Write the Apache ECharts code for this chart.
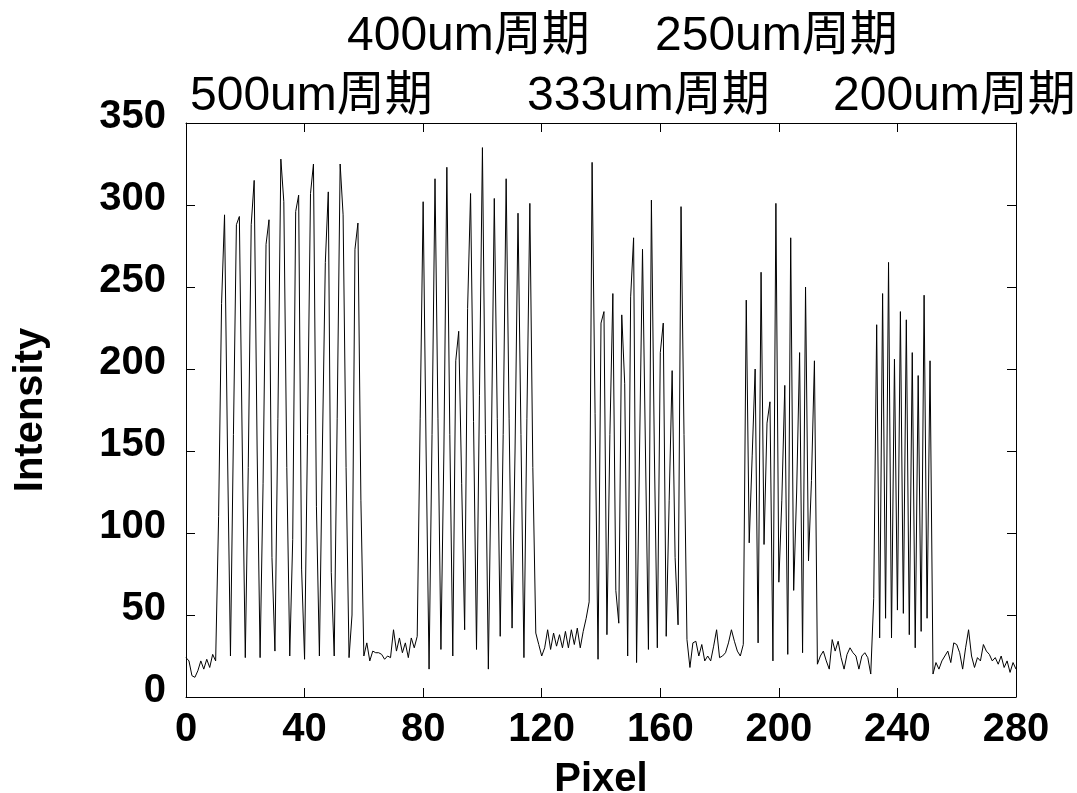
<!DOCTYPE html>
<html>
<head>
<meta charset="utf-8">
<script src="https://cdn.jsdelivr.net/npm/echarts@6/dist/echarts.min.js"></script>
<style>
  html, body { margin: 0; padding: 0; background: #ffffff; }
  #chart { width: 1077px; height: 793px; }
</style>
</head>
<body>
<div id="chart"></div>
<script>
// Line profile across the grating pattern: intensity per pixel (index = pixel 0..280)
const intensity = [
  24, 22, 13, 12, 16, 22, 17, 23, 18, 26,          // 0-9
  22, 110, 240, 294, 150, 25, 160, 288, 293, 150,  // 10-19
  24, 140, 288, 315, 150, 24, 130, 276, 291, 85,   // 20-29
  28, 170, 328, 302, 140, 25, 96, 296, 306, 78,    // 30-39
  23, 160, 307, 325, 116, 25, 150, 265, 308, 76,   // 40-49
  25, 170, 325, 294, 140, 24, 50, 273, 289, 120,   // 50-59
  25, 33, 22, 28, 27, 27, 26, 23, 25, 24,          // 60-69
  41, 28, 36, 27, 33, 24, 36, 30, 37, 170,         // 70-79
  302, 150, 17, 160, 316, 170, 29, 150, 323, 160,  // 80-89
  25, 205, 223, 130, 41, 237, 307, 168, 29, 184,   // 90-99
  335, 160, 17, 150, 304, 170, 37, 160, 316, 170,  // 100-109
  42, 150, 295, 160, 24, 170, 301, 140, 39, 32,    // 110-119
  25, 30, 41, 29, 39, 31, 38, 30, 40, 30,          // 120-129
  41, 32, 42, 30, 40, 48, 58, 326, 173, 23,        // 130-139
  228, 235, 38, 160, 246, 65, 45, 233, 191, 25,    // 140-149
  244, 280, 21, 150, 273, 150, 29, 303, 150, 30,   // 150-159
  210, 228, 37, 120, 199, 85, 44, 299, 160, 35,    // 160-169
  18, 33, 34, 25, 32, 22, 25, 22, 31, 41,          // 170-179
  24, 25, 27, 33, 41, 34, 28, 25, 32, 242,         // 180-189
  94, 147, 200, 33, 259, 93, 167, 180, 22, 301,    // 190-199
  70, 120, 190, 26, 280, 65, 125, 210, 27, 250,    // 200-209
  83, 132, 205, 20, 25, 28, 22, 17, 35, 28,        // 210-219
  34, 24, 17, 26, 30, 27, 25, 17, 25, 27,          // 220-229
  24, 14, 60, 227, 36, 246, 48, 265, 36, 206,      // 230-239
  53, 235, 51, 230, 38, 210, 30, 196, 40, 245,     // 240-249
  48, 205, 14, 21, 17, 22, 25, 28, 21, 33,         // 250-259
  32, 27, 17, 30, 41, 25, 18, 24, 22, 32,          // 260-269
  28, 26, 22, 24, 20, 25, 18, 22, 15, 21,          // 270-279
  17                                               // 280
];

// Axis ranges and tick steps
const xRange = [0, 280];
const xStep = 40;
const yRange = [0, 350];
const yStep = 50;

// Period annotations above the plot
const periodLabels = ['400um周期', '250um周期', '500um周期', '333um周期', '200um周期'];

const seriesData = intensity.map((v, i) => [i, v]);

const FONT = '"Liberation Sans", Arial, "Noto Sans CJK SC", sans-serif';
const BOLD = { color: '#000', fontFamily: FONT, fontWeight: 'bold', fontSize: 40 };
const NOTE_FONT = '48px ' + FONT;

function frameAxis(extra) {
  return Object.assign({
    type: 'value',
    axisLine: { show: true, onZero: false, lineStyle: { color: '#000', width: 1 } },
    axisTick: { show: true, inside: true, length: 9, lineStyle: { color: '#000', width: 1 } },
    splitLine: { show: false },
    minorTick: { show: false }
  }, extra);
}

const chart = echarts.init(document.getElementById('chart'), null, { renderer: 'canvas' });

chart.setOption({
  animation: false,
  backgroundColor: '#ffffff',
  grid: { left: 186, right: 61, top: 123, bottom: 96, containLabel: false, outerBoundsMode: 'none' },
  xAxis: [
    frameAxis({
      position: 'bottom', min: xRange[0], max: xRange[1], interval: xStep,
      name: 'Pixel', nameLocation: 'middle', nameGap: 63,
      nameTextStyle: BOLD,
      axisLabel: Object.assign({ margin: 13 }, BOLD)
    }),
    frameAxis({
      position: 'top', min: xRange[0], max: xRange[1], interval: xStep,
      axisLabel: { show: false }
    })
  ],
  yAxis: [
    frameAxis({
      position: 'left', min: yRange[0], max: yRange[1], interval: yStep,
      name: 'Intensity', nameLocation: 'middle', nameGap: 135, nameRotate: 90,
      nameTextStyle: BOLD,
      // labels sit slightly above their ticks
      axisLabel: Object.assign({ margin: 20, verticalAlign: 'bottom', lineHeight: 12 }, BOLD)
    }),
    frameAxis({
      position: 'right', min: yRange[0], max: yRange[1], interval: yStep,
      axisLabel: { show: false }
    })
  ],
  series: [{
    type: 'line',
    data: seriesData,
    showSymbol: false,
    symbol: 'none',
    lineStyle: { color: '#000', width: 1 },
    xAxisIndex: 0,
    yAxisIndex: 0
  }],
  graphic: [
    { type: 'text', left: 347, top: 13, style: { text: periodLabels[0], fill: '#000', font: NOTE_FONT } },
    { type: 'text', left: 655, top: 13, style: { text: periodLabels[1], fill: '#000', font: NOTE_FONT } },
    { type: 'text', left: 190, top: 73, style: { text: periodLabels[2], fill: '#000', font: NOTE_FONT } },
    { type: 'text', left: 527, top: 73, style: { text: periodLabels[3], fill: '#000', font: NOTE_FONT } },
    { type: 'text', left: 833, top: 73, style: { text: periodLabels[4], fill: '#000', font: NOTE_FONT } }
  ]
});
</script>
</body>
</html>
